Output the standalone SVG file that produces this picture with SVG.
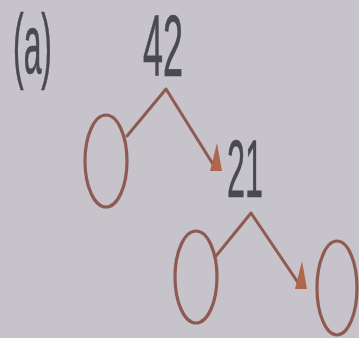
<svg xmlns="http://www.w3.org/2000/svg" width="359" height="338" viewBox="0 0 359 338">
  <style>
    .bg { fill: #c6c3ca; }
    .lbl { font-family: "Liberation Sans", Arial, sans-serif; fill: #4a4850; stroke: #4a4850; stroke-width: 0.7; }
    .edge { fill: none; stroke: #8e5a52; stroke-width: 3; stroke-linecap: round; stroke-linejoin: round; }
    .node { fill: none; stroke: #8e5a52; stroke-width: 3.2; }
  </style>
  <defs>
    <marker id="arrow" markerUnits="userSpaceOnUse" orient="0" viewBox="-10 -32 20 38" refX="0" refY="0" markerWidth="20" markerHeight="38" overflow="visible">
      <path d="M1,-26 L-6,2 L6,2 Z" fill="#b0654d"/>
    </marker>
  </defs>
  <rect class="bg" x="0" y="0" width="359" height="338"/>

  <g id="label-a">
    <text class="lbl" x="13" y="73" font-size="83" textLength="39" lengthAdjust="spacingAndGlyphs">(a)</text>
  </g>

  <g id="connectors">
    <polyline class="edge" points="127,136 166,89 216,169" marker-end="url(#arrow)"/>
    <polyline class="edge" points="216,256 251,213 301,287" marker-end="url(#arrow)"/>
  </g>

  <g id="node-42">
    <text class="lbl" x="143" y="76" font-size="87" textLength="40" lengthAdjust="spacingAndGlyphs">42</text>
  </g>
  <g id="node-empty-1">
    <ellipse class="node" cx="106" cy="161" rx="21" ry="46"/>
  </g>
  <g id="node-21">
    <text class="lbl" x="227" y="197" font-size="81" textLength="36" lengthAdjust="spacingAndGlyphs">21</text>
  </g>
  <g id="node-empty-2">
    <ellipse class="node" cx="196" cy="277" rx="21" ry="46"/>
  </g>
  <g id="node-empty-3">
    <ellipse class="node" cx="337" cy="288" rx="20" ry="47"/>
  </g>
</svg>
